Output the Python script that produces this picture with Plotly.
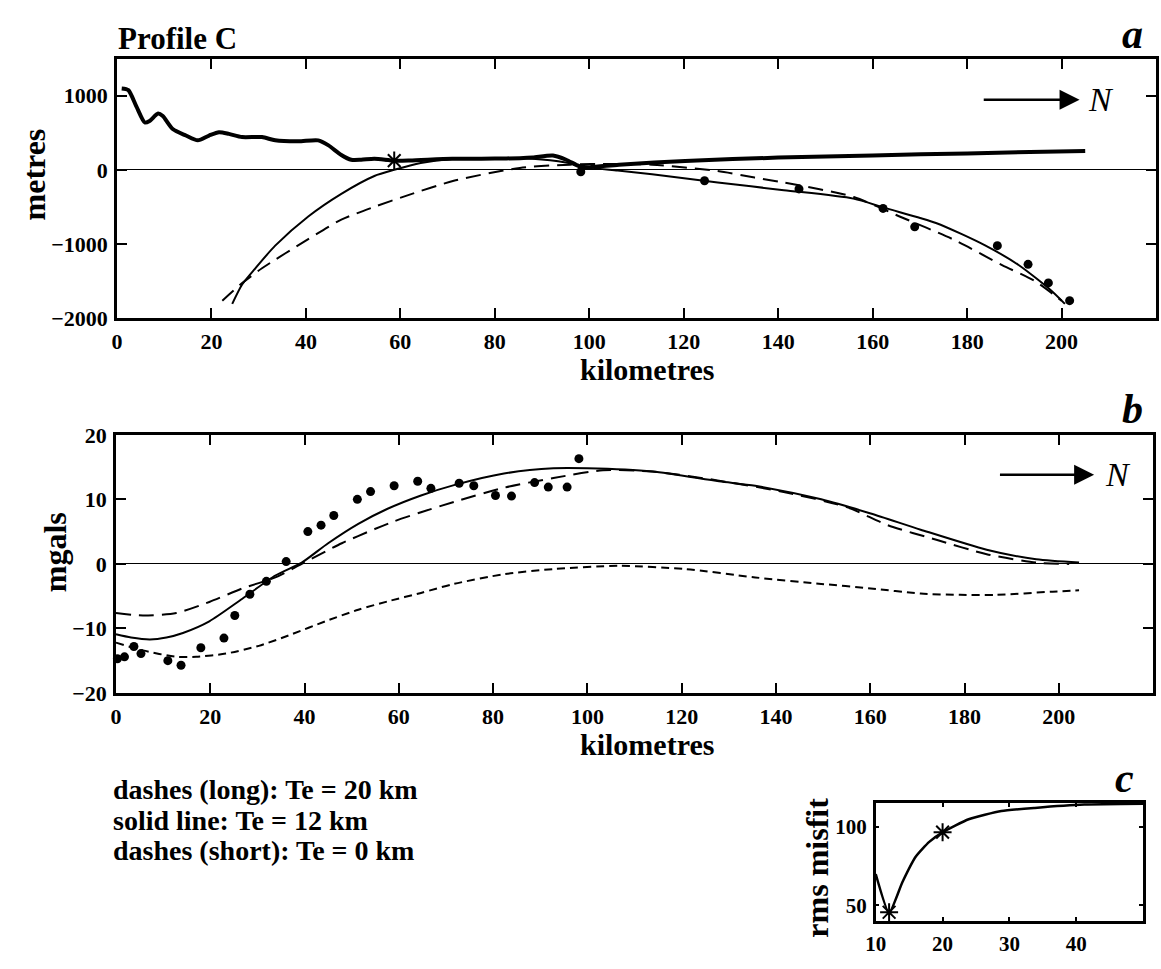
import plotly.graph_objects as go

# ---------------- data ----------------
# Panel a: topography / flexure (metres vs kilometres)
topo_km = [1, 2.4, 4.1, 5.9, 6.9, 8.7, 9.7, 11.8, 14.6, 17.1, 19.5, 21.6, 23.7, 26.5, 30.7, 33.5,
           38.4, 42.6, 44.7, 47.5, 49.6, 51.7, 54.5, 58.7, 62, 71, 80, 85.3, 88, 92.3, 95.1, 97.9,
           100, 106.3, 120.3, 140, 160, 180, 205]
topo_m = [1098, 1076, 857, 639, 660, 761, 726, 551, 463, 398, 463, 507, 485, 442, 442, 398,
          385, 398, 333, 201, 136, 136, 149, 123, 125, 148, 152, 157, 165, 192, 136, 48,
          35, 70, 120, 165, 195, 222, 255]

a_te12_km = [24.4, 26.5, 29.3, 33.5, 40.5, 47.5, 54.5, 58.7, 64.3, 71.3, 80, 88, 95, 99, 106,
             113.3, 127.2, 141.2, 155.9, 162.9, 173.4, 183.9, 190.9, 197.9, 200.7]
a_te12_m = [-1811, -1549, -1330, -1024, -630, -324, -83, 0, 92, 150, 160, 150, 100, 40, -10,
            -61, -171, -275, -389, -521, -718, -1024, -1286, -1636, -1811]

a_te20_km = [22.3, 26.5, 30.7, 40.5, 47.5, 54.5, 61.5, 71.3, 85.3, 95.9, 105, 113.3, 127.2, 135,
             141.2, 156, 165.7, 176.9, 187.4, 194.4, 200]
a_te20_m = [-1767, -1530, -1330, -936, -673, -499, -345, -148, 26, 70, 80, 70, -17, -105,
            -171, -367, -630, -936, -1286, -1505, -1767]

a_obs_km = [98.2, 124.4, 144.4, 162.2, 168.9, 186.4, 192.9, 197.2, 201.7, 204.1]
a_obs_m = [-26, -148, -258, -521, -770, -1024, -1277, -1527, -1767, -2021]

a_star_km = [58.7]
a_star_m = [125]

# Panel b: gravity (mgals vs kilometres)
b_obs_km = [0.3, 1.8, 3.8, 5.3, 11, 13.8, 18, 22.9, 25.2, 28.4, 31.9, 36.1, 40.7, 43.5, 46.2,
            51.2, 54, 59, 64, 66.8, 72.8, 75.9, 80.5, 83.9, 88.8, 91.7, 95.7, 98.2]
b_obs_mgal = [-14.7, -14.4, -12.8, -13.9, -15.0, -15.7, -13.0, -11.5, -8.0, -4.7, -2.7, 0.35,
              5.0, 6.0, 7.5, 10.0, 11.2, 12.1, 12.8, 11.7, 12.5, 12.1, 10.6, 10.5, 12.6, 11.9,
              11.9, 16.3]

b_te12_km = [0, 3.2, 7.2, 10.7, 14.2, 19.8, 26.8, 33.8, 39.4, 45, 51.4, 57.5, 64.7, 71.7, 82.3,
             92.8, 100, 113.8, 127.9, 135.6, 149.6, 160.1, 170.7, 184.7, 195.2, 204.3]
b_te12_mgal = [-10.9, -11.4, -11.7, -11.4, -10.7, -8.9, -5.4, -1.8, 0.2, 3.2, 6.2, 8.5, 10.6,
               12.2, 14.0, 14.8, 14.8, 14.3, 12.8, 12.1, 10.0, 7.8, 5.3, 2.2, 0.7, 0.2]

b_te20_km = [0, 5.7, 12.8, 19.8, 26.8, 33.8, 39.4, 47.9, 54.9, 59, 64.7, 71.7, 82.3, 92.8, 103.3,
             113.8, 127.9, 141.9, 155, 163.7, 174.2, 184.7, 195.2, 202.2]
b_te20_mgal = [-7.6, -8.0, -7.6, -5.9, -3.8, -2.1, 0.0, 3.2, 5.4, 6.6, 8.0, 9.6, 11.8, 13.3, 14.5,
               14.3, 12.9, 11.1, 8.8, 6.0, 3.7, 1.5, 0.2, 0.0]

b_te0_km = [0, 5.7, 12.8, 17, 23.3, 30.3, 37.3, 44.4, 51.4, 57.7, 64.7, 71.7, 82.3, 92.8, 106.8,
            120.8, 135.6, 149.6, 160.1, 170.7, 179.1, 186.8, 198.7, 204.3]
b_te0_mgal = [-12.2, -13.4, -14.4, -14.4, -13.9, -12.7, -10.9, -8.9, -7.1, -5.8, -4.5, -3.1, -1.6,
              -0.8, -0.3, -0.8, -2.1, -3.1, -3.8, -4.6, -4.8, -4.8, -4.3, -4.1]

# Panel c: rms misfit vs Te
c_te = [10, 12, 14, 16, 18, 20, 23.9, 28.8, 33.8, 41.2, 50]
c_misfit = [69.8, 45, 64.8, 81, 90.3, 96.3, 104.7, 109.9, 111.9, 114, 114.5]
c_star_te = [12, 20]
c_star_misfit = [45.5, 96.5]

# tick labels
a_xticks = [0, 20, 40, 60, 80, 100, 120, 140, 160, 180, 200]
a_yticks = [-2000, -1000, 0, 1000]
b_yticks = [-20, -10, 0, 10, 20]
c_xticks = [10, 20, 30, 40]
c_yticks = [50, 100]

legend_lines = ["dashes (long): Te = 20 km", "solid line: Te = 12 km", "dashes (short): Te = 0 km"]

# ---------------- figure ----------------
FONT = "Liberation Serif"
W, H = 1161, 969
fig = go.Figure()

thin = 2
def line(x, y, xa, ya, dash="solid", width=thin):
    fig.add_trace(go.Scatter(x=x, y=y, xaxis=xa, yaxis=ya, mode="lines",
                             line=dict(color="black", width=width, dash=dash, shape="spline", smoothing=0.7),
                             showlegend=False, hoverinfo="skip"))

# panel a
line(topo_km, topo_m, "x", "y", width=4)
line(a_te12_km, a_te12_m, "x", "y")
line(a_te20_km, a_te20_m, "x", "y", dash="15px,8px")
fig.add_trace(go.Scatter(x=a_obs_km, y=a_obs_m, xaxis="x", yaxis="y", mode="markers",
                         marker=dict(color="black", size=9), cliponaxis=False, showlegend=False))
fig.add_trace(go.Scatter(x=a_star_km, y=a_star_m, xaxis="x", yaxis="y", mode="markers",
                         marker=dict(symbol="asterisk-open", size=15, color="black",
                                     line=dict(color="black", width=2)), showlegend=False))
# panel b
line(b_te12_km, b_te12_mgal, "x2", "y2")
line(b_te20_km, b_te20_mgal, "x2", "y2", dash="15px,8px")
line(b_te0_km, b_te0_mgal, "x2", "y2", dash="8px,5px")
fig.add_trace(go.Scatter(x=b_obs_km, y=b_obs_mgal, xaxis="x2", yaxis="y2", mode="markers",
                         marker=dict(color="black", size=9), cliponaxis=False, showlegend=False))
# panel c
fig.add_trace(go.Scatter(x=c_te, y=c_misfit, xaxis="x3", yaxis="y3", mode="lines",
                         line=dict(color="black", width=2.5, shape="spline", smoothing=0.5),
                         cliponaxis=False, showlegend=False))
fig.add_trace(go.Scatter(x=c_star_te, y=c_star_misfit, xaxis="x3", yaxis="y3", mode="markers",
                         marker=dict(symbol="asterisk-open", size=15, color="black",
                                     line=dict(color="black", width=2)), cliponaxis=False,
                         showlegend=False))

tickfont = dict(family=FONT, size=22, color="black", weight="bold")
def axis(dom, rng, ticks, zeroline=False, **kw):
    d = dict(domain=dom, range=rng, tickmode="array", tickvals=ticks,
             showline=True, linecolor="black", linewidth=2.5, mirror="ticks",
             ticks="inside", ticklen=10, tickwidth=2, tickcolor="black",
             showgrid=False, zeroline=zeroline, zerolinecolor="black", zerolinewidth=1.3,
             tickfont=tickfont, fixedrange=True)
    d.update(kw)
    return d

fig.update_layout(
    width=W, height=H, margin=dict(l=0, r=0, t=0, b=0),
    paper_bgcolor="white", plot_bgcolor="white",
    font=dict(family=FONT, color="black"),
    xaxis=axis([107/W, 1156/W], [0, 220], a_xticks, anchor="y", ticklabelstandoff=2),
    yaxis=axis([1-314/H, 1-48/H], [-2000, 1500], a_yticks, zeroline=True, anchor="x", ticklabelstandoff=2),
    xaxis2=axis([106/W, 1153/W], [0, 220], a_xticks, anchor="y2", ticklabelstandoff=2),
    yaxis2=axis([1-699/H, 1-434/H], [-20, 20], b_yticks, zeroline=True, anchor="x2", ticklabelstandoff=2),
    xaxis3=axis([873/W, 1143/W], [10, 50], c_xticks, anchor="y3", ticklen=4,
                tickfont=dict(family=FONT, size=21, color="black", weight="bold"), ticklabelstandoff=2),
    yaxis3=axis([1-933/H, 1-812/H], [40, 115], c_yticks, anchor="x3", ticklen=4,
                tickfont=dict(family=FONT, size=21, color="black", weight="bold"), ticklabelstandoff=2),
)

def bold(size, italic=False):
    f = dict(family=FONT, size=size, color="black", weight="bold")
    if italic:
        f["style"] = "italic"
    return f

ann = []
def paper(text, x, y, size, xanchor="center", yanchor="middle", italic=False, angle=0):
    ann.append(dict(text=text, x=x/W, y=1-y/H, xref="paper", yref="paper", showarrow=False,
                    xanchor=xanchor, yanchor=yanchor, font=bold(size, italic), textangle=angle))

paper("Profile C", 106, 27, 31, xanchor="left")
paper("a", 1145, 23, 42, xanchor="right", italic=True)
paper("b", 1145, 408, 42, xanchor="right", italic=True)
paper("c", 1136, 786, 42, xanchor="right", italic=True)
paper("metres", 23, 167, 32, angle=-90)
paper("mgals", 44, 555, 32, angle=-90)
paper("rms misfit", 814, 878, 32, angle=-90)
paper("kilometres", 642, 367, 30)
paper("kilometres", 642, 752, 30)
for i, t in enumerate(legend_lines):
    paper(t, 101, 798 + 31.5 * i, 28, xanchor="left")

# direction arrows
for xr, yr, x0, x1, yv, nx in [("x", "y", 183.2, 203.8, 945, 208.3), ("x2", "y2", 187.2, 207.5, 13.8, 212.5)]:
    ann.append(dict(x=x1, y=yv, ax=x0, ay=yv, xref=xr, yref=yr, axref=xr, ayref=yr, text="",
                    showarrow=True, arrowhead=2, arrowsize=1.6, arrowwidth=2.5, arrowcolor="black"))
    ann.append(dict(x=nx, y=yv, xref=xr, yref=yr, text="N", showarrow=False, xanchor="center",
                    yanchor="middle", font=dict(family=FONT, size=34, color="black", style="italic")))

fig.update_layout(annotations=ann)
fig.write_html("out.html")
